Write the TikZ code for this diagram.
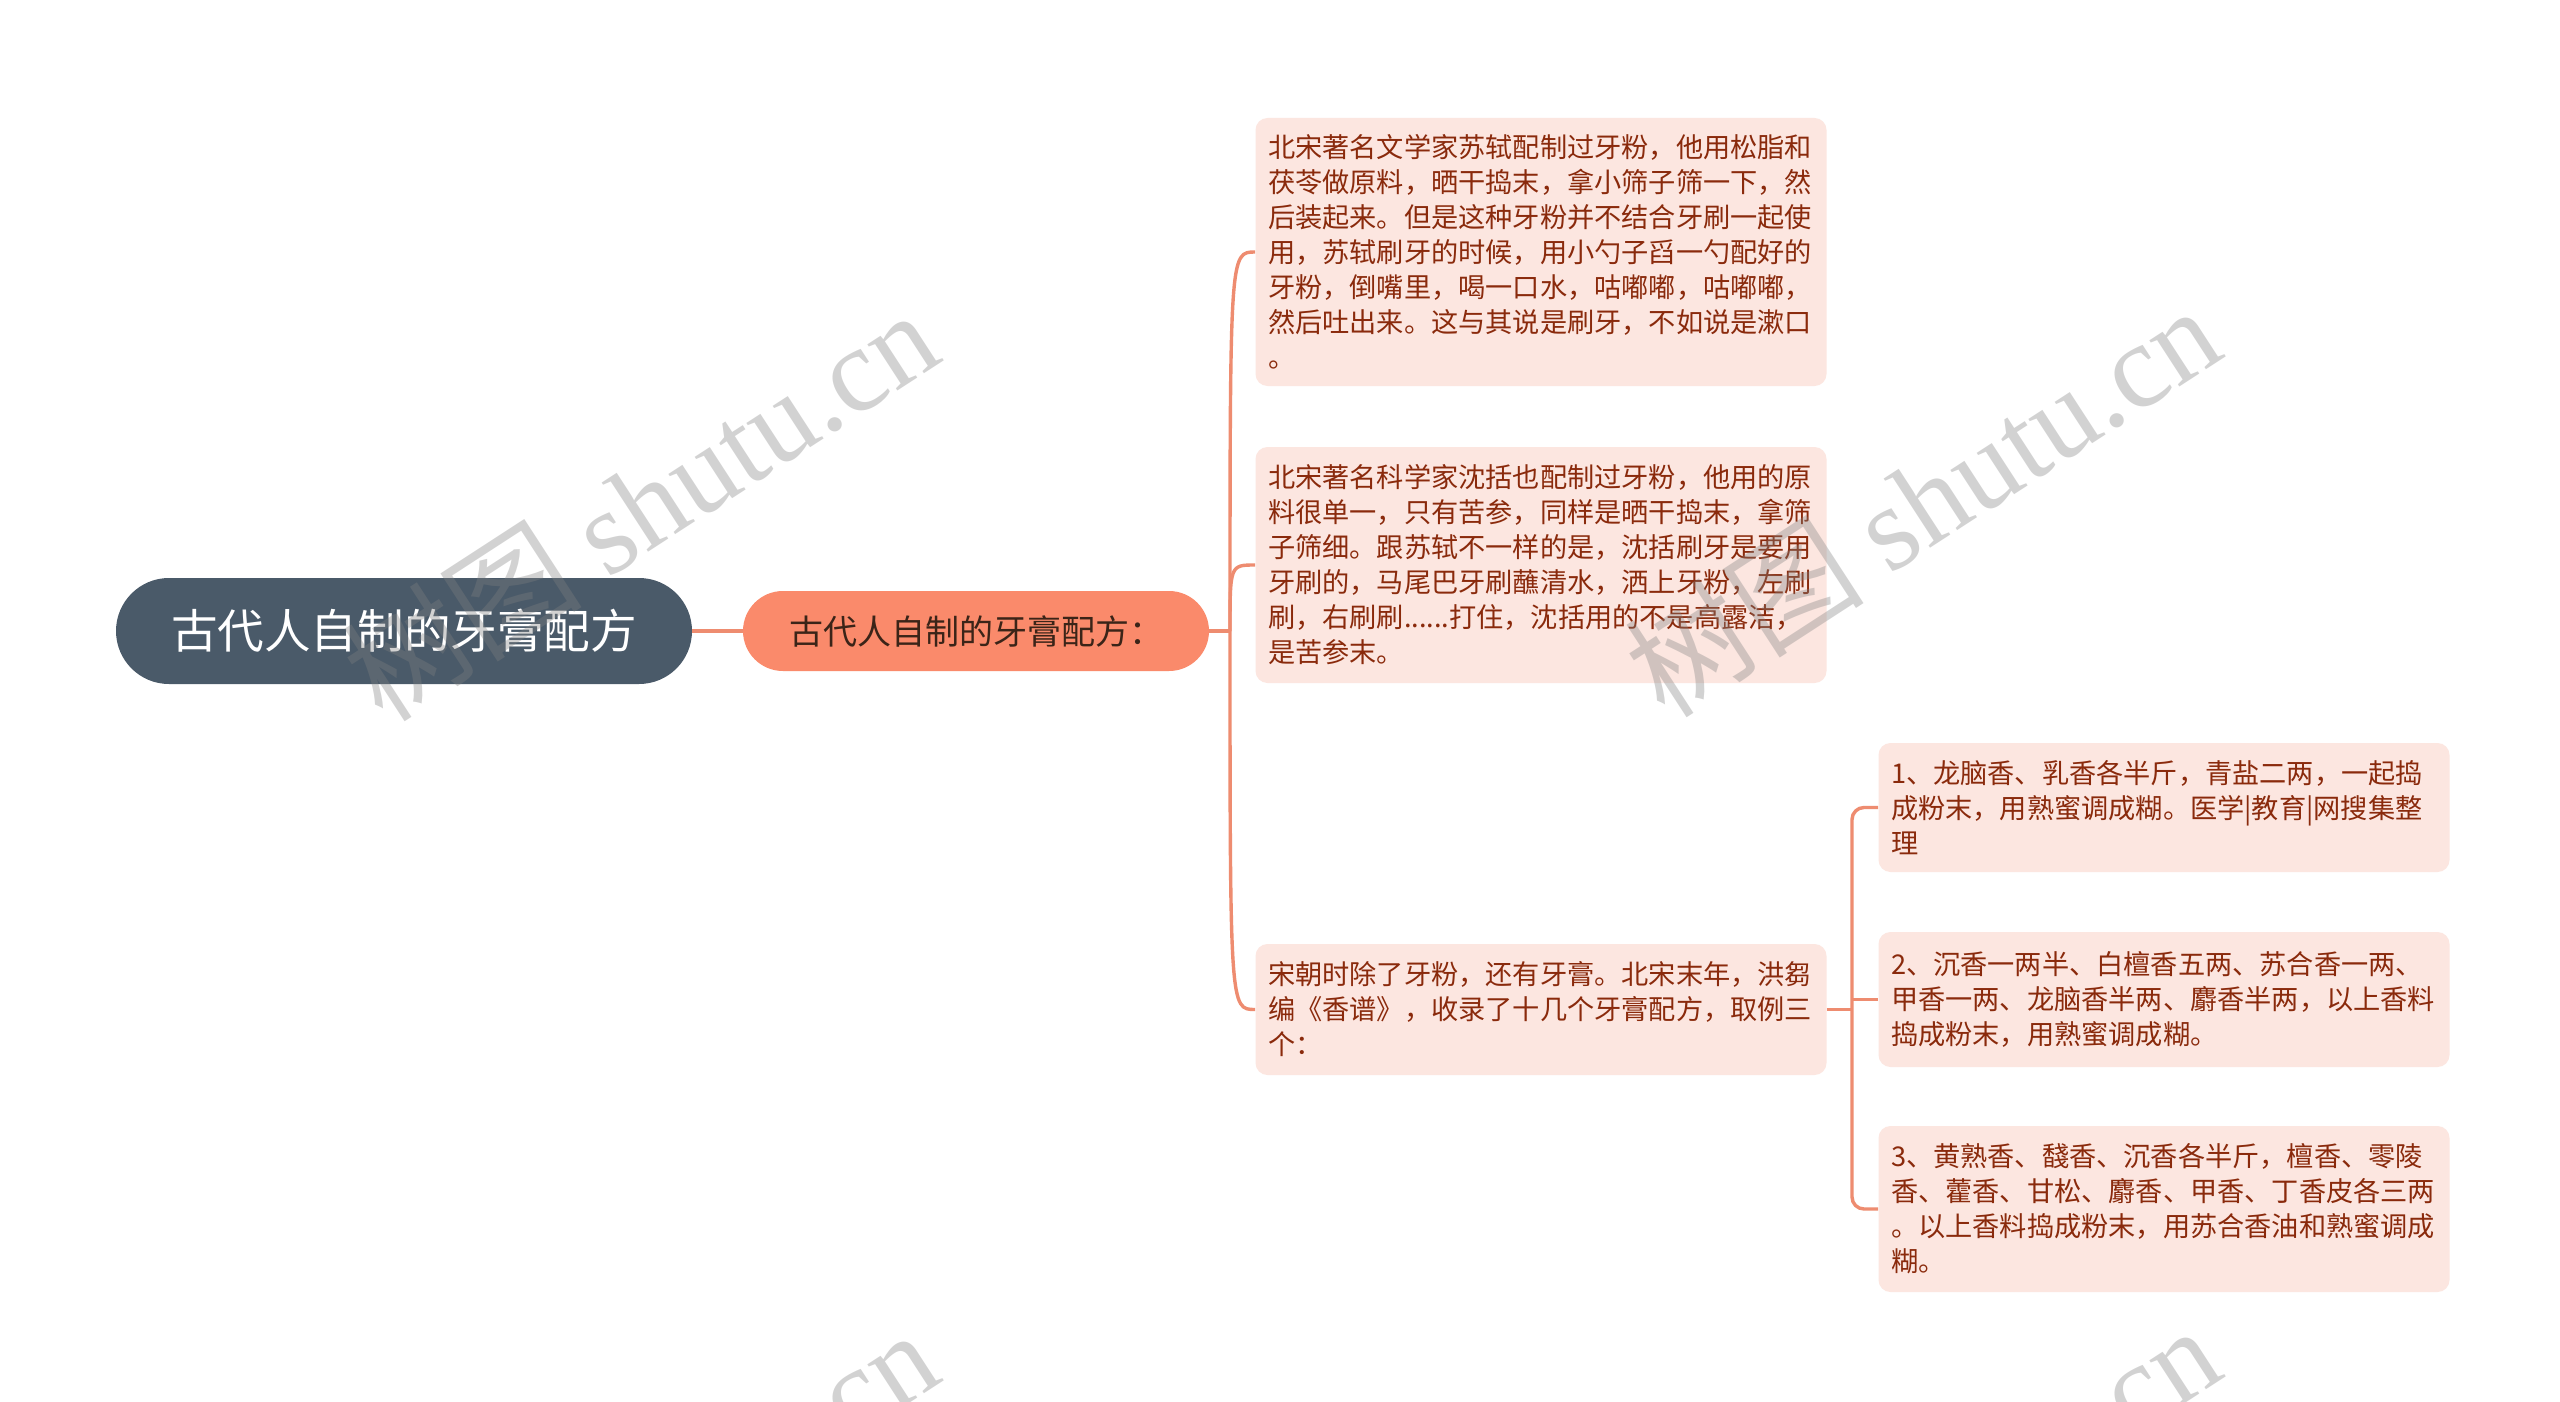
\documentclass[tikz,border=0pt]{standalone}
\usepackage{fontspec}
\setmainfont{Noto Sans CJK SC}
\newfontfamily\wmlatin{Liberation Serif}
\definecolor{rootfill}{HTML}{4A5A69}
\definecolor{subfill}{HTML}{FA8A6B}
\definecolor{subtext}{HTML}{3B2418}
\definecolor{leaffill}{HTML}{FCE6E0}
\definecolor{leaftext}{HTML}{8A2A0C}
\definecolor{linecol}{HTML}{EE8C70}
\definecolor{wmgray}{HTML}{808080}
\begin{document}
\begin{tikzpicture}[x=0.5pt,y=-0.5pt,
  rootbox/.style={fill=rootfill, text=white, rounded corners=26.5pt, minimum width=288pt, minimum height=53pt, inner sep=0pt, font=\fontsize{23.3pt}{27pt}\selectfont},
  subbox/.style={fill=subfill, text=subtext, rounded corners=20pt, minimum width=233pt, minimum height=40pt, inner sep=0pt, font=\fontsize{17pt}{20pt}\selectfont},
  leafbox/.style={fill=leaffill, text=leaftext, rounded corners=6pt, align=left, text width=273pt, inner xsep=6.25pt, inner ysep=0pt, font=\fontsize{13.6pt}{17.5pt}\selectfont},
  conn/.style={draw=linecol, line width=1.7pt},
  wm/.style={text=wmgray, opacity=0.35, rotate=33, inner sep=0pt, font=\fontsize{60pt}{60pt}\selectfont}
]
\useasboundingbox (0,0) rectangle (2560,1402);
\fill[white] (0,0) rectangle (2560,1402);

\node[rootbox] (root) at (404,631) {古代人自制的牙膏配方};
\node[subbox] (sub) at (976,631) {古代人自制的牙膏配方：};

\node[leafbox, minimum height=134pt] (l1) at (1541,252) {北宋著名文学家苏轼配制过牙粉，他用松脂和\\茯苓做原料，晒干捣末，拿小筛子筛一下，然\\后装起来。但是这种牙粉并不结合牙刷一起使\\用，苏轼刷牙的时候，用小勺子舀一勺配好的\\牙粉，倒嘴里，喝一口水，咕嘟嘟，咕嘟嘟，\\然后吐出来。这与其说是刷牙，不如说是漱口\\。};
\node[leafbox, minimum height=118pt] (l2) at (1541,565) {北宋著名科学家沈括也配制过牙粉，他用的原\\料很单一，只有苦参，同样是晒干捣末，拿筛\\子筛细。跟苏轼不一样的是，沈括刷牙是要用\\牙刷的，马尾巴牙刷蘸清水，洒上牙粉，左刷\\刷，右刷刷......打住，沈括用的不是高露洁，\\是苦参末。};
\node[leafbox, minimum height=65.5pt] (l3) at (1541,1009.5) {宋朝时除了牙粉，还有牙膏。北宋末年，洪芻\\编《香谱》，收录了十几个牙膏配方，取例三\\个：};

\node[leafbox, minimum height=64.5pt] (c1) at (2164,807.5) {1、龙脑香、乳香各半斤，青盐二两，一起捣\\成粉末，用熟蜜调成糊。医学|教育|网搜集整\\理};
\node[leafbox, minimum height=67.5pt] (c2) at (2164,999.5) {2、沉香一两半、白檀香五两、苏合香一两、\\甲香一两、龙脑香半两、麝香半两，以上香料\\捣成粉末，用熟蜜调成糊。};
\node[leafbox, minimum height=83pt] (c3) at (2164,1209) {3、黄熟香、馢香、沉香各半斤，檀香、零陵\\香、藿香、甘松、麝香、甲香、丁香皮各三两\\。以上香料捣成粉末，用苏合香油和熟蜜调成\\糊。};

% connectors
\draw[conn] (root.east) -- (sub.west);
\coordinate (bus1) at (1230,631);
\draw[conn] (sub.east) -- (bus1);
\draw[conn] (bus1) .. controls (bus1 |- l1.west) .. (l1.west);
\draw[conn] (bus1) .. controls (bus1 |- l2.west) .. (l2.west);
\draw[conn] (bus1) .. controls (bus1 |- l3.west) .. (l3.west);

\coordinate (bus2) at (1852,1009.5);
\draw[conn] (l3.east) -- (bus2);
\draw[conn, rounded corners=6pt] (c1.west) -| (bus2) |- (c3.west);
\draw[conn] (bus2 |- c2.west) -- (c2.west);

% watermarks
\begin{scope}
\clip (0,0) rectangle (2560,1402);
\node[wm] (wm1) at (640,504) {树图 {\wmlatin shutu.cn}};
\node[wm] (wm2) at (1922,500) {树图 {\wmlatin shutu.cn}};
\node[wm] (wm3) at (640,1524) {树图 {\wmlatin shutu.cn}};
\node[wm] (wm4) at (1922,1520) {树图 {\wmlatin shutu.cn}};
\end{scope}
\end{tikzpicture}
\end{document}
